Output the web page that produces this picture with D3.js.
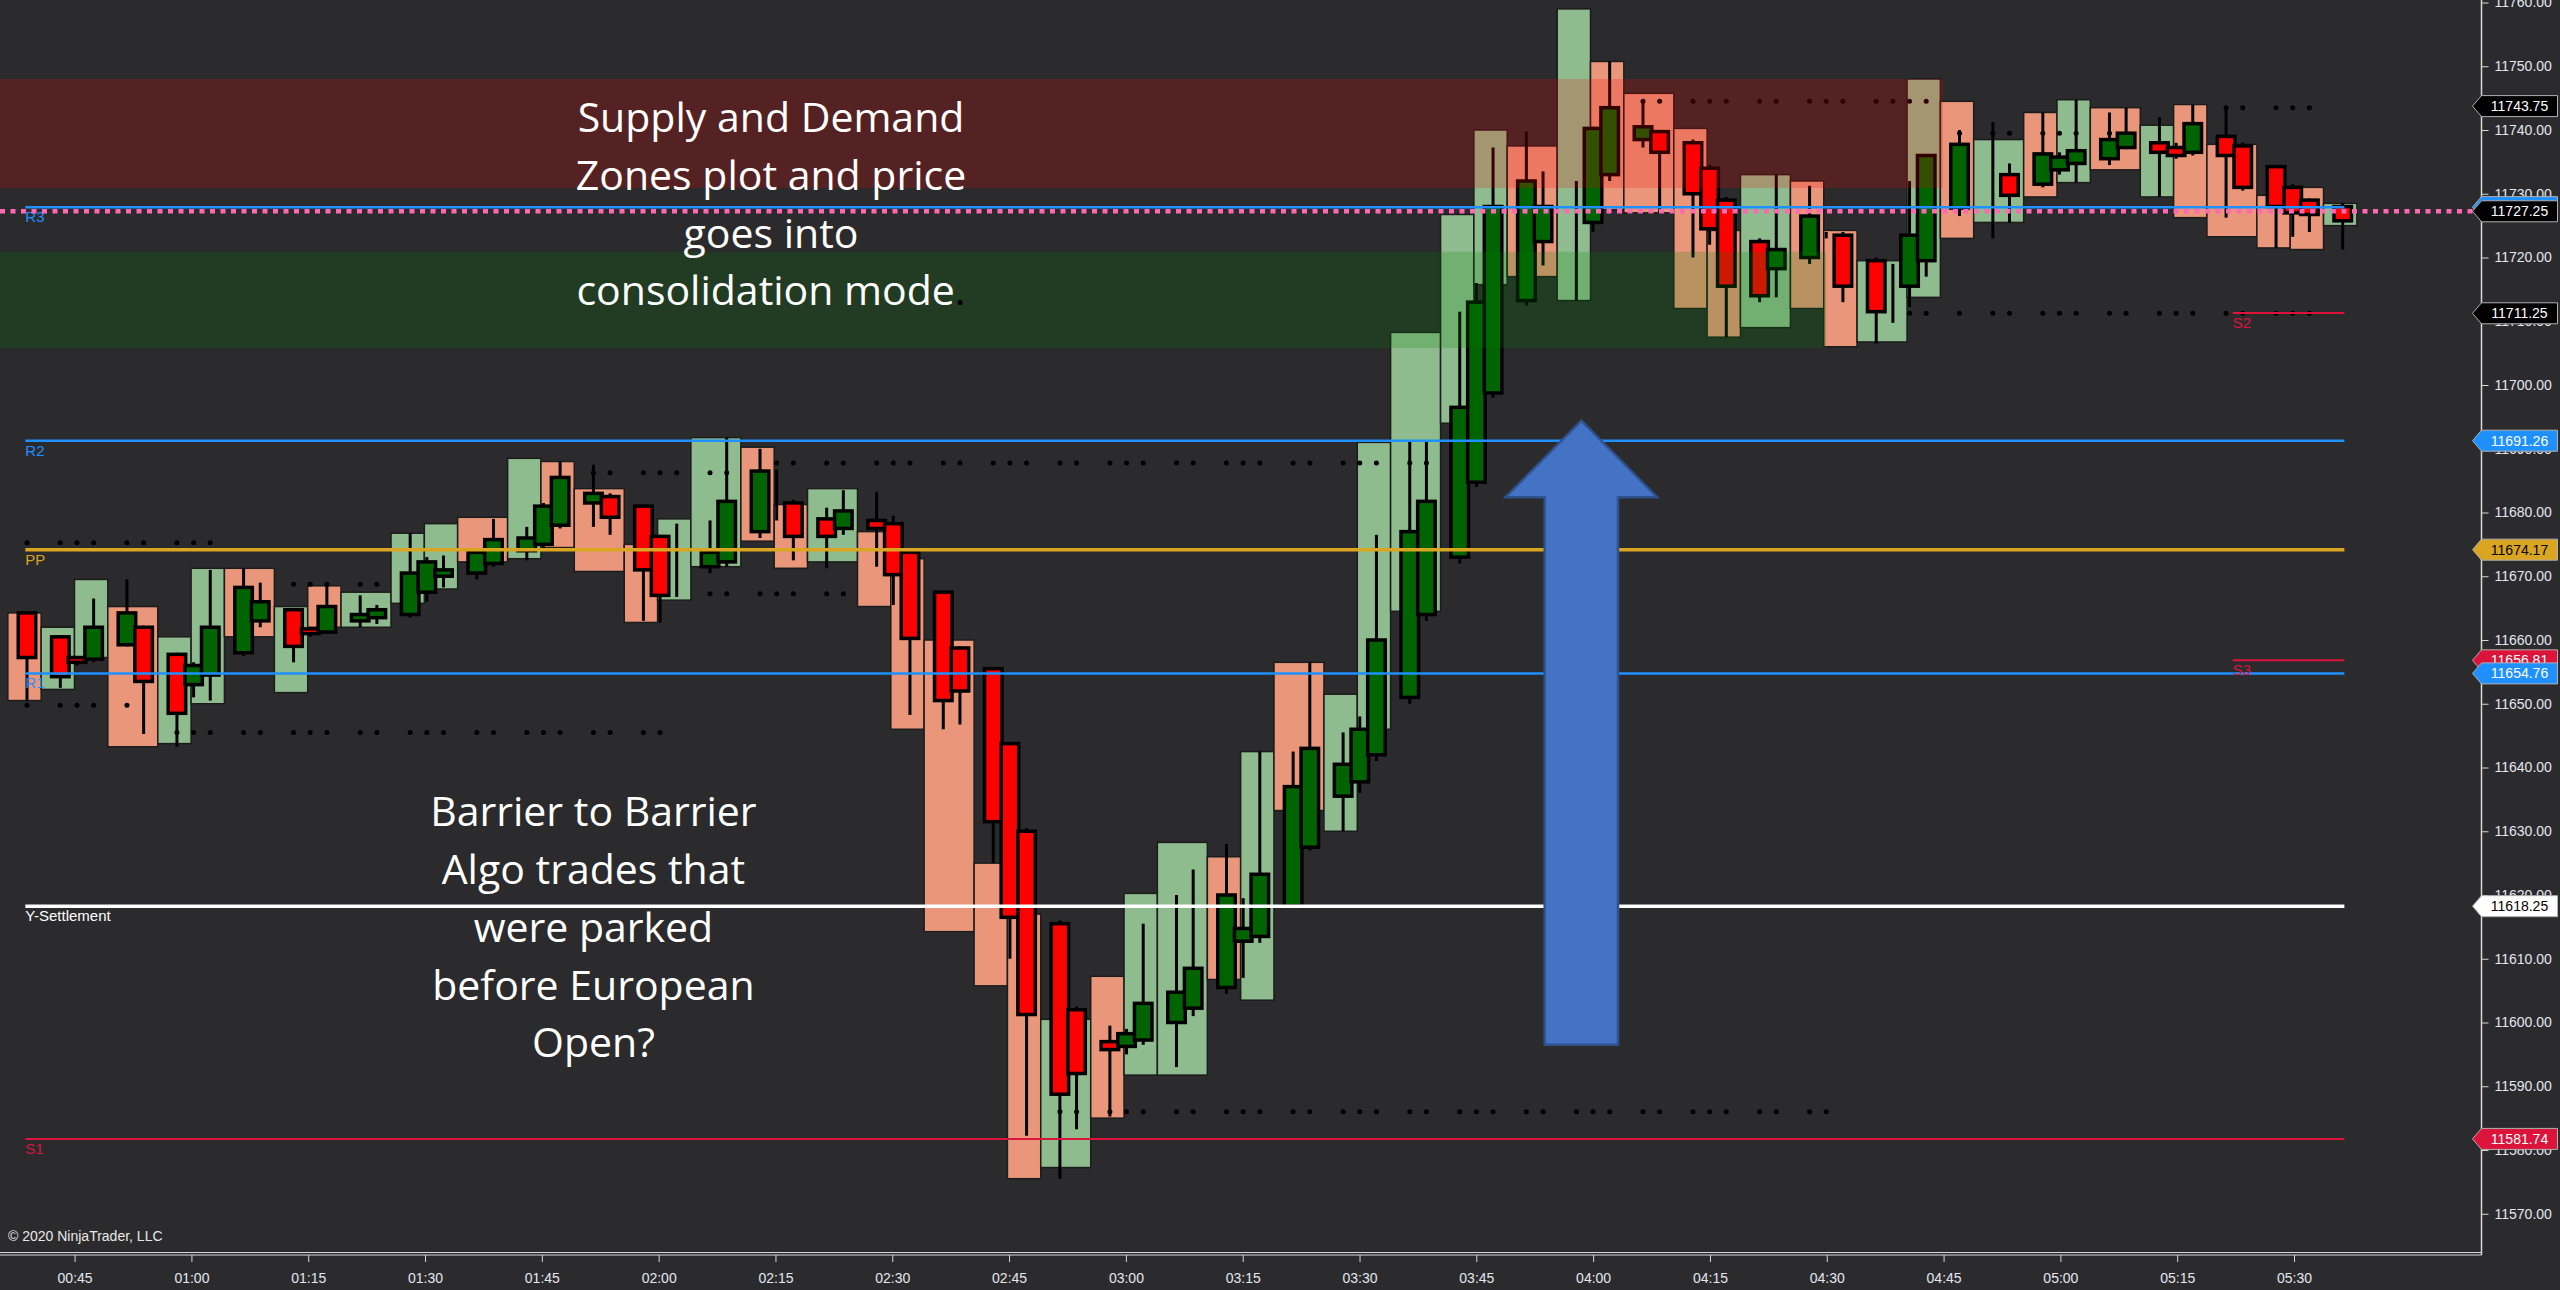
<!DOCTYPE html>
<html>
<head>
<meta charset="utf-8">
<script src="https://cdn.jsdelivr.net/npm/d3@7"></script>
<style>
  html, body { margin: 0; padding: 0; background: #2b2b2d; overflow: hidden; }
  svg { display: block; }
  .note { font-family: "Open Sans", sans-serif; font-size: 41px; fill: #ffffff; }
  .axis text { font-family: "Liberation Sans", Arial, sans-serif; font-size: 14px; fill: #e4e6f0; }
</style>
</head>
<body>
<div id="container"></div>
<script>
// small bars: slot, open, high, low, close
var candles = [
  [0, 11664.25, 11664.5, 11650.5, 11657.25], [2, 11660.5, 11660.75, 11652.5, 11654.25],
  [3, 11657.25, 11657.5, 11656, 11656.5], [4, 11657, 11666.5, 11656.5, 11662],
  [6, 11659.25, 11669.5, 11659, 11664.25], [7, 11662, 11662.25, 11645.25, 11653.5],
  [9, 11657.75, 11658, 11643.25, 11648.5], [10, 11653, 11656.5, 11651, 11656],
  [11, 11654.5, 11671, 11650.5, 11662], [13, 11658, 11671.25, 11657.5, 11668.25],
  [14, 11663, 11669, 11662, 11666], [16, 11664.75, 11665, 11656.5, 11659],
  [17, 11661.75, 11662, 11660.5, 11661], [18, 11661.25, 11668.5, 11661, 11665.25],
  [20, 11663, 11667, 11662, 11664], [21, 11663.5, 11665.5, 11662.5, 11664.75],
  [23, 11664, 11676.75, 11663.5, 11670.5], [24, 11667.5, 11673, 11666, 11672.25],
  [25, 11670, 11673.25, 11668.25, 11671], [27, 11670.5, 11674, 11669.5, 11673.75],
  [28, 11672, 11679, 11671.5, 11675.75], [30, 11674, 11677.75, 11672.5, 11676],
  [31, 11675, 11681.5, 11674.5, 11681], [32, 11678, 11688, 11677.5, 11685.5],
  [34, 11681.5, 11687.5, 11677.75, 11683], [35, 11682.5, 11683, 11676.5, 11679.25],
  [37, 11681, 11681.25, 11663, 11671], [38, 11676.25, 11676.5, 11662.75, 11667],
  [39, 11671.5, 11678.25, 11666.75, 11671.5], [41, 11671.5, 11678.75, 11670.5, 11673.75],
  [42, 11672.25, 11691.75, 11671.5, 11681.75], [44, 11677, 11690, 11676, 11686.5],
  [45, 11681.5, 11686.75, 11678.75, 11681.5], [46, 11681.5, 11682, 11672.5, 11676.25],
  [48, 11679, 11680.75, 11671.25, 11676.25], [49, 11677.5, 11683.5, 11676.5, 11680.25],
  [51, 11678.75, 11683.25, 11671.5, 11677.5], [52, 11678.25, 11679.5, 11665.5, 11670.25],
  [53, 11673.75, 11674, 11648.25, 11660.25], [55, 11667.5, 11667.75, 11646, 11650.5],
  [56, 11658.75, 11659, 11646.75, 11652], [58, 11655.5, 11655.75, 11625, 11631.5],
  [59, 11643.75, 11644, 11610, 11616.5], [60, 11630, 11630.5, 11582.25, 11601.25],
  [62, 11615.5, 11616, 11575.5, 11588.75], [63, 11602, 11602.5, 11583.25, 11592],
  [65, 11597, 11599.5, 11585.25, 11595.75], [66, 11596.25, 11599, 11595, 11598.25],
  [67, 11597.25, 11615.5, 11596.5, 11603], [69, 11600, 11620, 11593, 11604.75],
  [70, 11602.25, 11624, 11601, 11608.5], [72, 11605.5, 11628, 11604.5, 11620],
  [73, 11612.75, 11619.5, 11607, 11614.75], [74, 11613.5, 11642.5, 11612.5, 11623.25],
  [76, 11618.25, 11642.5, 11618, 11637], [77, 11627.5, 11656.5, 11627, 11643],
  [79, 11635.5, 11645.5, 11630, 11640.5], [80, 11637.75, 11648, 11636, 11646],
  [81, 11642, 11676.5, 11641, 11660], [83, 11651, 11691.25, 11650, 11677],
  [84, 11664, 11691.25, 11663, 11681.75], [86, 11673, 11711.5, 11672, 11696.5],
  [87, 11684.75, 11716, 11684, 11713], [88, 11698.75, 11737.25, 11698, 11728],
  [90, 11713.25, 11739.75, 11712.5, 11732], [91, 11722.5, 11733.5, 11718.75, 11728],
  [93, 11725.75, 11732, 11713.25, 11725.75], [94, 11725.5, 11740.5, 11724, 11740.25],
  [95, 11733, 11750.75, 11732, 11743.5], [97, 11738.5, 11744.75, 11737.25, 11740.5],
  [98, 11739.75, 11740, 11727, 11736.5], [100, 11738, 11738.5, 11720, 11730],
  [101, 11734, 11734.5, 11722, 11724.5], [102, 11729, 11729.5, 11707.5, 11715.5],
  [104, 11722.5, 11723, 11713, 11714], [105, 11718.25, 11733, 11713.75, 11721.25],
  [107, 11720, 11731.25, 11719, 11726.5], [108, 11723.5, 11724, 11723, 11723.5],
  [109, 11723.5, 11724, 11713, 11715.5], [111, 11719.5, 11720, 11706.5, 11711.5],
  [112, 11715.5, 11719, 11709.75, 11715.5], [113, 11715.5, 11732, 11712.25, 11723.5],
  [114, 11719.5, 11736, 11717, 11736], [116, 11727.75, 11740, 11726.5, 11737.75],
  [118, 11732.75, 11741.25, 11723, 11732.75], [119, 11733, 11734.75, 11725.5, 11729.75],
  [121, 11731.5, 11742.75, 11731, 11736.25], [122, 11733.75, 11736.5, 11733, 11735.75],
  [123, 11734.75, 11744.75, 11731.75, 11736.75], [125, 11735.5, 11742.75, 11734.5, 11738.5],
  [126, 11737.25, 11743.5, 11737, 11739.5], [128, 11738, 11742, 11729.5, 11736.5],
  [129, 11737.25, 11738, 11735.5, 11736], [130, 11736.5, 11744, 11736, 11741],
  [132, 11739, 11743.5, 11726.25, 11736], [133, 11737.5, 11738, 11730.5, 11731],
  [135, 11734.25, 11734.5, 11721.5, 11728], [136, 11731, 11731.5, 11723.25, 11727],
  [137, 11729, 11729.25, 11724, 11726.75], [139, 11728, 11728.5, 11721.25, 11725.75]
]

// wide background bars: first slot, last slot, top, bottom, up (1) / down (0)
var boxes = [
  [-1, 0, 11664.25, 11650.5, 0], [1, 2, 11662, 11652.25, 1], [3, 4, 11669.5, 11657.25, 1],
  [5, 7, 11665.25, 11643.25, 0], [8, 9, 11660.5, 11643.75, 1], [10, 11, 11671.25, 11650, 1],
  [12, 14, 11671.25, 11660.5, 0], [15, 16, 11665.25, 11651.75, 1], [17, 18, 11668.5, 11662, 0],
  [19, 21, 11667.5, 11662, 1], [22, 23, 11676.75, 11665.75, 1], [24, 25, 11678.25, 11668, 1],
  [26, 28, 11679.25, 11672.25, 0], [29, 30, 11688.5, 11672.75, 1], [31, 32, 11688, 11674.5, 0],
  [33, 35, 11683.75, 11670.75, 0], [36, 37, 11675, 11662.75, 0], [38, 39, 11679, 11666.25, 1],
  [40, 42, 11691.75, 11671.5, 1], [43, 44, 11690.25, 11675.5, 0], [45, 46, 11681.25, 11671.25, 0],
  [47, 49, 11683.75, 11672.25, 1], [50, 51, 11677, 11665.25, 0], [52, 53, 11672.75, 11646, 0],
  [54, 56, 11660, 11614.25, 0], [57, 58, 11625, 11605.75, 0], [59, 60, 11617, 11575.5, 0],
  [61, 63, 11600.5, 11577.25, 1], [64, 65, 11607.25, 11585, 0], [66, 67, 11620.25, 11591.75, 1],
  [68, 70, 11628.25, 11591.75, 1], [71, 72, 11626, 11606.75, 0], [73, 74, 11642.5, 11603.5, 1],
  [75, 77, 11656.5, 11633.25, 0], [78, 79, 11651.5, 11630, 1], [80, 81, 11691, 11646, 1],
  [82, 84, 11708.25, 11664.5, 1], [85, 86, 11726.75, 11694, 1], [87, 88, 11740, 11715.75, 1],
  [89, 91, 11737.5, 11717, 0], [92, 93, 11759, 11713.25, 1], [94, 95, 11750.75, 11727.5, 0],
  [96, 98, 11745.75, 11727, 0], [99, 100, 11740.25, 11712, 0], [101, 102, 11724.25, 11707.5, 0],
  [103, 105, 11733, 11709, 1], [106, 107, 11732, 11712, 0], [108, 109, 11724.25, 11706, 0],
  [110, 112, 11719.5, 11706.75, 1], [113, 114, 11748, 11713.75, 1], [115, 116, 11744.5, 11723, 0],
  [117, 119, 11738.5, 11725.5, 1], [120, 121, 11742.75, 11729.5, 0], [122, 123, 11744.75, 11731.75, 1],
  [124, 126, 11743.5, 11733.75, 0], [127, 128, 11740.75, 11729.5, 1], [129, 130, 11744, 11726.25, 0],
  [131, 133, 11737.75, 11723.25, 0], [134, 135, 11729.75, 11721.5, 0], [136, 137, 11731, 11721.25, 0],
  [138, 139, 11728.5, 11725, 1]
]

// swing dots: price, first slot, last slot (one dot per bar)
var dotRows = [
  [11675.25, 0, 11], [11649.75, 0, 6], [11645.5, 9, 38], [11668.75, 16, 21],
  [11686.25, 34, 44], [11687.75, 45, 84], [11667.25, 41, 49], [11586, 62, 108],
  [11744.5, 97, 114], [11739.5, 116, 125], [11743.5, 132, 137], [11711.25, 113, 137]
]

// pivots
var pivotNames = ['R3', 'R2', 'PP', 'R1', 'Y-Settlement', 'S1']
var pivotValues = [11727.9, 11691.26, 11674.17, 11654.76, 11618.25, 11581.74]
var pivotColors = ['#1e90ff', '#1e90ff', '#daa520', '#1e90ff', '#ffffff', '#dc143c']
var pivotWidths = [2.5, 2.5, 3.5, 2.5, 3.5, 2]
var shortNames = ['S2', 'S3']
var shortValues = [11711.3, 11656.81]
var shortStart = 132.4
var lastPrice = 11727.25

// supply (red) and demand (green) zones: top, bottom, last slot
var zoneTops = [11748, 11720.9]
var zoneBottoms = [11730.9, 11705.8]
var zoneEnds = [115, 108]

// right-hand price markers
var flagValues = [11743.75, 11727.9, 11727.25, 11711.25, 11691.26, 11674.17, 11656.81, 11654.76, 11618.25, 11581.74]
var flagFills = ['#000', '#1e90ff', '#000', '#000', '#1e90ff', '#daa520', '#dc143c', '#1e90ff', '#fff', '#dc143c']
var flagInks = ['#fff', '#fff', '#fff', '#fff', '#fff', '#000', '#fff', '#fff', '#000', '#fff']

var timeLabels = ['00:45', '01:00', '01:15', '01:30', '01:45', '02:00', '02:15', '02:30', '02:45', '03:00',
  '03:15', '03:30', '03:45', '04:00', '04:15', '04:30', '04:45', '05:00', '05:15', '05:30']
var priceTicks = [11570, 11580, 11590, 11600, 11610, 11620, 11630, 11640, 11650, 11660,
  11670, 11680, 11690, 11700, 11710, 11720, 11730, 11740, 11750, 11760]

var noteSupply = ['Supply and Demand', 'Zones plot and price', 'goes into', 'consolidation mode']
var noteSupplyAt = [44.66, 11741.9]
var noteBarrier = ['Barrier to Barrier', 'Algo trades that', 'were parked', 'before European', 'Open?']
var noteBarrierAt = [34, 11633]
// arrow: slot, tip, head base, tail, shaft half width and head half width (in slots)
var arrow = { slot: 93.3, tip: 11694.4, base: 11682.4, tail: 11596.5, shaft: 2.2, head: 4.55 }

var W = 2560, H = 1290
var plotRight = 2481, plotBottom = 1253

var svg = d3.select('#container').append('svg')
  .attr('width', W).attr('height', H)

svg.append('rect').attr('width', W).attr('height', H).attr('fill', '#2b2b2d')

var x = d3.scaleLinear().domain([0, 139]).range([27, 2342.7])
var y = d3.scaleLinear().domain([11570, 11760]).range([1213.75, 2.5])
var parseTime = d3.timeParse('%H:%M')
var xt = d3.scaleTime()
  .domain([parseTime('00:45'), parseTime('05:30')])
  .range([74.6, 2294])

svg.append('clipPath').attr('id', 'plotclip')
  .append('rect').attr('width', plotRight).attr('height', plotBottom)

var plot = svg.append('g').attr('clip-path', 'url(#plotclip)')

// background bars
plot.selectAll('.box').data(boxes).enter().append('rect')
  .attr('class', 'box')
  .attr('x', d => x(d[0] - 0.15))
  .attr('width', d => x(d[1] + 0.85) - x(d[0] - 0.15))
  .attr('y', d => y(d[2]))
  .attr('height', d => y(d[3]) - y(d[2]))
  .attr('fill', d => d[4] ? '#8fbc8f' : '#e9967a')
  .attr('stroke', '#1c1c1c')
  .attr('stroke-width', 1.5)

// dots sit on bars that exist
var slotSet = new Set(candles.map(d => d[0]))
var dots = []
dotRows.forEach(function (r) {
  for (var s = r[1]; s <= r[2]; s++) {
    if (slotSet.has(s)) dots.push([s, r[0]])
  }
})
plot.selectAll('.dot').data(dots).enter().append('circle')
  .attr('class', 'dot')
  .attr('cx', d => x(d[0]))
  .attr('cy', d => y(d[1]))
  .attr('r', 2.5)
  .attr('fill', '#000')

// candles
var bodyW = 17.5
var cg = plot.selectAll('.candle').data(candles).enter().append('g').attr('class', 'candle')
cg.append('line')
  .attr('x1', d => x(d[0])).attr('x2', d => x(d[0]))
  .attr('y1', d => y(d[2])).attr('y2', d => y(d[3]))
  .attr('stroke', '#000').attr('stroke-width', 3)
cg.append('rect')
  .attr('x', d => x(d[0]) - bodyW / 2)
  .attr('width', bodyW)
  .attr('y', d => y(Math.max(d[1], d[4])))
  .attr('height', d => Math.abs(y(d[1]) - y(d[4])))
  .attr('fill', d => d[4] > d[1] ? '#006400' : (d[4] < d[1] ? '#ff0000' : '#000'))
  .attr('stroke', '#000')
  .attr('stroke-width', 3.5)

// pivot lines
pivotValues.forEach(function (v, i) {
  plot.append('line')
    .attr('x1', x(-0.1)).attr('x2', x(139.1))
    .attr('y1', y(v)).attr('y2', y(v))
    .attr('stroke', pivotColors[i]).attr('stroke-width', pivotWidths[i])
  plot.append('text')
    .attr('x', x(-0.1)).attr('y', y(v) + 15)
    .attr('fill', pivotColors[i])
    .style('font-family', '"Liberation Sans", Arial, sans-serif')
    .style('font-size', '15px')
    .text(pivotNames[i])
})
shortValues.forEach(function (v, i) {
  plot.append('line')
    .attr('x1', x(shortStart)).attr('x2', x(139.1))
    .attr('y1', y(v)).attr('y2', y(v))
    .attr('stroke', '#dc143c').attr('stroke-width', 2)
  plot.append('text')
    .attr('x', x(shortStart)).attr('y', y(v) + 15)
    .attr('fill', '#dc143c')
    .style('font-family', '"Liberation Sans", Arial, sans-serif')
    .style('font-size', '15px')
    .text(shortNames[i])
})

// last price, pink dotted
plot.append('line')
  .attr('x1', 0).attr('x2', plotRight - 8)
  .attr('y1', y(lastPrice)).attr('y2', y(lastPrice))
  .attr('stroke', '#ff69b4').attr('stroke-width', 4.5)
  .attr('stroke-dasharray', '5 5.5')

// zones drawn over everything as translucent bands
var zoneFills = ['rgba(255,0,0,0.2)', 'rgba(0,128,0,0.2)']
zoneTops.forEach(function (t, i) {
  plot.append('rect')
    .attr('x', 0).attr('width', x(zoneEnds[i]))
    .attr('y', y(t)).attr('height', y(zoneBottoms[i]) - y(t))
    .attr('fill', zoneFills[i])
})

// annotations
function note(lines, at) {
  var t = svg.append('text').attr('class', 'note').attr('text-anchor', 'middle')
  lines.forEach(function (l, i) {
    t.append('tspan')
      .attr('x', x(at[0]))
      .attr('y', y(at[1]) + i * 57.7)
      .attr('dy', '0.35em')
      .text(l)
  })
  return t
}
note(noteSupply, noteSupplyAt).select('tspan:last-child')
  .append('tspan').attr('fill', '#000').text('.')
note(noteBarrier, noteBarrierAt)

var ax = x(arrow.slot), sw = arrow.shaft * (x(1) - x(0)), hw = arrow.head * (x(1) - x(0))
svg.append('path')
  .attr('d', d3.line()([
    [ax, y(arrow.tip)], [ax + hw, y(arrow.base)], [ax + sw, y(arrow.base)],
    [ax + sw, y(arrow.tail)], [ax - sw, y(arrow.tail)], [ax - sw, y(arrow.base)],
    [ax - hw, y(arrow.base)]
  ]) + 'Z')
  .attr('fill', '#4472c4')
  .attr('stroke', '#2f528f')
  .attr('stroke-width', 2.5)

// frame
svg.append('line').attr('x1', plotRight + 0.5).attr('x2', plotRight + 0.5)
  .attr('y1', 0).attr('y2', plotBottom + 2).attr('stroke', '#d8d8d8').attr('stroke-width', 1.5)
svg.append('line').attr('x1', 0).attr('x2', plotRight + 0.5)
  .attr('y1', plotBottom - 0.5).attr('y2', plotBottom - 0.5).attr('stroke', '#d8d8d8')
svg.append('line').attr('x1', 0).attr('x2', plotRight + 0.5)
  .attr('y1', plotBottom + 2).attr('y2', plotBottom + 2).attr('stroke', '#d8d8d8')

// axes
var yAxis = svg.append('g').attr('class', 'axis')
  .attr('transform', 'translate(' + (plotRight + 0.5) + ',0)')
  .call(d3.axisRight(y).tickValues(priceTicks).tickFormat(d3.format('.2f')).tickSize(7).tickPadding(6))
yAxis.select('.domain').remove()
yAxis.selectAll('line').attr('stroke', '#d8d8d8')

var xAxis = svg.append('g').attr('class', 'axis')
  .attr('transform', 'translate(0,' + (plotBottom + 2) + ')')
  .call(d3.axisBottom(xt).tickValues(timeLabels.map(parseTime))
    .tickFormat(d3.timeFormat('%H:%M')).tickSize(7).tickPadding(11))
xAxis.select('.domain').remove()
xAxis.selectAll('line').attr('stroke', '#d8d8d8')

// price markers on the axis
var flags = svg.selectAll('.flag').data(flagValues).enter().append('g')
  .attr('class', 'flag')
  .attr('transform', d => 'translate(' + (plotRight + 0.5) + ',' + y(d) + ')')
flags.append('path')
  .attr('d', 'M-9,0 L0,-10.5 L76,-10.5 L76,10.5 L0,10.5 Z')
  .attr('fill', (d, i) => flagFills[i])
  .attr('stroke', '#b0b0b0').attr('stroke-width', 1)
flags.append('text')
  .attr('x', 38).attr('dy', '0.36em')
  .attr('text-anchor', 'middle')
  .attr('fill', (d, i) => flagInks[i])
  .style('font-family', '"Liberation Sans", Arial, sans-serif')
  .style('font-size', '14px')
  .text(d => d3.format('.2f')(d))

svg.append('text')
  .attr('x', 8).attr('y', 1241)
  .attr('fill', '#e8e8e8')
  .style('font-family', '"Liberation Sans", Arial, sans-serif')
  .style('font-size', '14px')
  .text('\u00a9 2020 NinjaTrader, LLC')
</script>
</body>
</html>
